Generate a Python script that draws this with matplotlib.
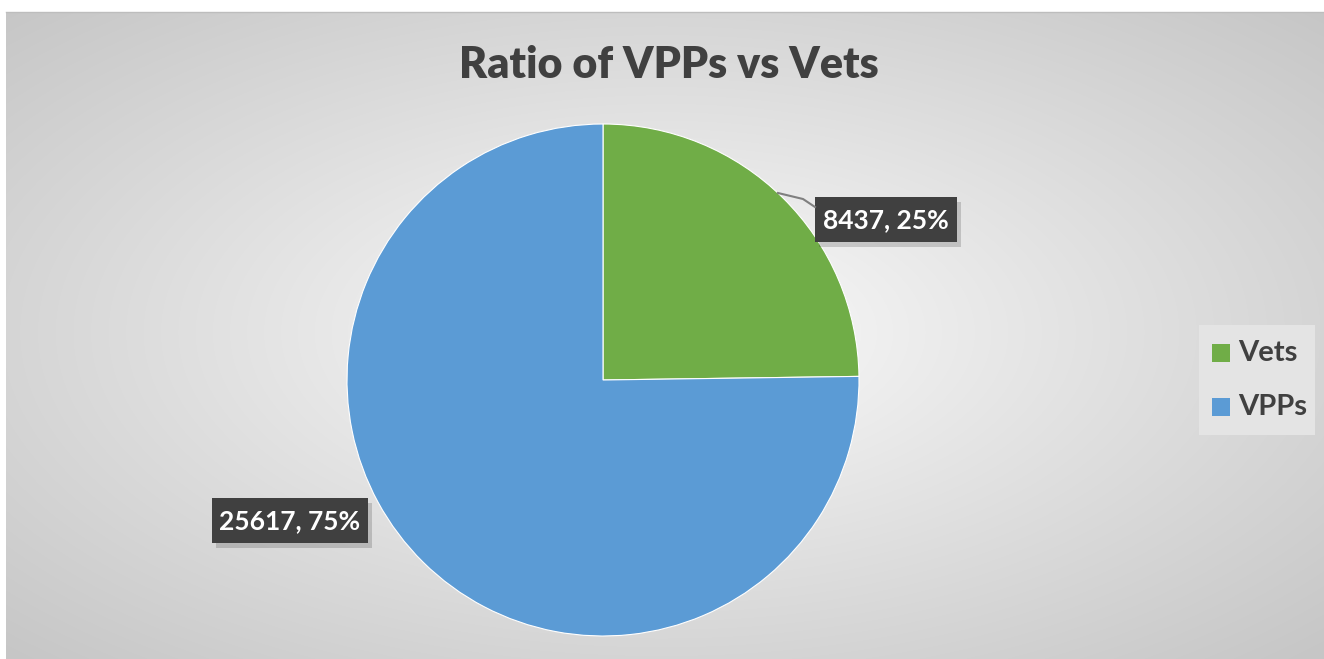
import numpy as np
import matplotlib
matplotlib.use("Agg")
import matplotlib.pyplot as plt
from matplotlib.patches import Rectangle

categories = ["Vets", "VPPs"]
values = [8437, 25617]
colors = ["#70AD47", "#5B9BD5"]
title = "Ratio of VPPs vs Vets"

W, H = 1324, 659
fig = plt.figure(figsize=(W / 100, H / 100), dpi=100)
fig.patch.set_facecolor("white")

# background radial gradient (chart area)
bg = fig.add_axes([6 / W, 0, (W - 6) / W, (H - 12) / H])
bg.set_axis_off()
yy, xx = np.mgrid[0:H - 12, 0:W - 6]
cx, cy = 655, 320
d = np.sqrt(((xx - cx) / ((W - 6) / 2)) ** 2 + ((yy - cy) / ((H - 12) / 2)) ** 2)
g = 254 - 56 * np.clip(d / 1.414, 0, 1) ** 0.9
img = np.dstack([g, g, g]) / 255.0
bg.imshow(img, aspect="auto", extent=[0, 1, 0, 1], origin="upper")
bg.set_xlim(0, 1)
bg.set_ylim(0, 1)
fig.add_artist(plt.Line2D([6 / W, 1], [1 - 12 / H, 1 - 12 / H], color="#bdbdbd", lw=1))

# pie
pcx, pcy, R = 603, 380, 256
ax = fig.add_axes([(pcx - R) / W, 1 - (pcy + R) / H, 2 * R / W, 2 * R / H])
wedges, _ = ax.pie(values, colors=colors, startangle=90, counterclock=False,
                   radius=1.0, wedgeprops=dict(linewidth=0.8, edgecolor="white"))
ax.set_xlim(-1, 1)
ax.set_ylim(-1, 1)
ax.set_aspect("equal")
ax.set_axis_off()

total = sum(values)
labels = [f"{v}, {round(v / total * 100)}%" for v in values]

font = ["Lato", "DejaVu Sans"]

def fx(px):
    return px / W

def fy(py):
    return 1 - py / H

# label boxes (pixel layout)
boxes = [(815, 197, 142, 45), (212, 498, 156, 45)]
for (bx, by, bw, bh), lab in zip(boxes, labels):
    # shadow
    fig.add_artist(Rectangle((fx(bx + 4), fy(by + bh + 5)), bw / W, bh / H,
                             transform=fig.transFigure, facecolor="#000000",
                             alpha=0.16, edgecolor="none"))
    fig.add_artist(Rectangle((fx(bx), fy(by + bh)), bw / W, bh / H,
                             transform=fig.transFigure, facecolor="#404040",
                             edgecolor="none"))
    fig.text(fx(bx + bw / 2), fy(by + bh / 2 + 1), lab, ha="center", va="center",
             color="white", fontsize=19, fontweight="bold", family=font)

# leader line for Vets
fig.add_artist(plt.Line2D([fx(778), fx(803), fx(815)], [fy(193), fy(199), fy(207)],
                          color="#7f7f7f", lw=1.5))

# title
fig.text(fx(669), fy(65), title, ha="center", va="center", fontsize=31,
         fontweight="heavy", color="#404040", family=font)

# legend
fig.add_artist(Rectangle((fx(1199), fy(435)), 116 / W, 110 / H,
                         transform=fig.transFigure, facecolor="#e6e6e6",
                         edgecolor="none", alpha=0.9))
for i, (cat, col) in enumerate(zip(categories, colors)):
    yc = 353 + i * 54
    fig.add_artist(Rectangle((fx(1212), fy(yc + 9)), 18 / W, 18 / H,
                             transform=fig.transFigure, facecolor=col, edgecolor="none"))
    fig.text(fx(1238), fy(yc), cat, ha="left", va="center", fontsize=21,
             fontweight="bold", color="#404040", family=font)

fig.savefig("out.png", dpi=100)
